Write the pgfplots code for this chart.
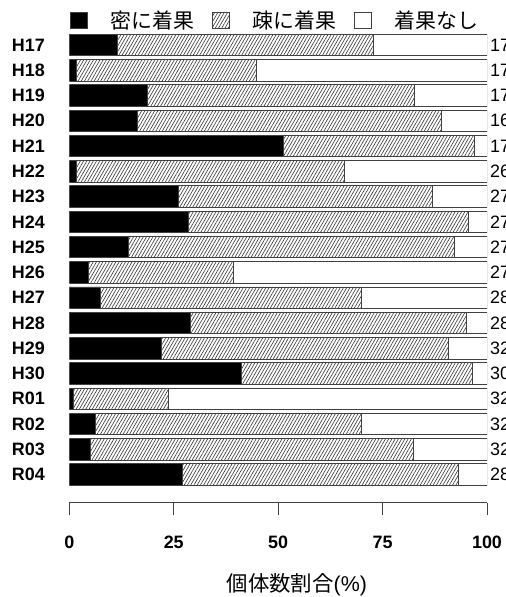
\documentclass[border=0pt]{standalone}
\usepackage{fontspec}
\setmainfont{Liberation Sans}
\newfontfamily\cjk{Noto Sans CJK JP}
\usepackage{pgfplots}
\pgfplotsset{compat=1.18}
\usepackage{pgfplotstable}
\usetikzlibrary{patterns.meta}

\pgfplotstableread{
y b h w n
17 11.5 61.4 27.1 17
16 1.7 43.1 55.2 17
15 18.7 63.9 17.4 17
14 16.3 72.9 10.8 16
13 51.2 45.9 2.9 17
12 1.8 64.0 34.2 26
11 26.1 60.8 13.1 27
10 28.5 67.0 4.5 27
9 14.2 78.0 7.8 27
8 4.5 34.8 60.7 27
7 7.4 62.5 30.1 28
6 29.1 65.9 5.0 28
5 22.0 68.8 9.2 32
4 41.3 55.3 3.4 30
3 1.0 22.8 76.2 32
2 6.3 63.6 30.1 32
1 5.0 77.4 17.6 32
0 27.0 66.1 6.9 28
}\data

\definecolor{edge}{HTML}{404040}
\newcommand\legtext[1]{{\cjk\fontsize{21}{21}\selectfont #1}}

\begin{document}
\begin{tikzpicture}
\useasboundingbox (0,0) rectangle (506bp,597bp);
\begin{axis}[
  at={(69.3bp,94.3bp)}, anchor=south west,
  scale only axis, width=417.7bp, height=470.4bp,
  xbar stacked, bar width=0.85,
  xmin=0, xmax=100, ymin=-1.11, ymax=17.5,
  axis x line*=bottom, axis y line*=left,
  y axis line style={draw=none},
  x axis line style={draw=edge, line width=0.9bp, -},
  ytick={0,...,17},
  yticklabels={R04,R03,R02,R01,H30,H29,H28,H27,H26,H25,H24,H23,H22,H21,H20,H19,H18,H17},
  ytick style={draw=none},
  xtick={0,25,50,75,100},
  tick align=outside,
  major tick length=12.3bp,
  xtick style={draw=edge, line width=0.9bp},
  /pgf/number format/assume math mode=true,
  ticklabel style={font=\fontsize{18}{18}\selectfont\bfseries, inner sep=0pt},
  yticklabel style={anchor=east, xshift=-12bp},
  xticklabel style={anchor=north, yshift=-21bp},
  xlabel={{\cjk 個体数割合}(\%)},
  xlabel style={at={(axis description cs:0.5,0)}, anchor=center, yshift=-82bp, xshift=18.7bp, font=\fontsize{21.5}{21.5}\selectfont, inner sep=0pt},
  legend columns=3,
  legend style={draw=none, fill=none, at={(0,1)}, anchor=west, xshift=0.7bp, yshift=12bp,
    inner sep=0pt, outer sep=0pt, nodes={inner sep=0pt},
    /tikz/every even column/.append style={column sep=18bp}},
  legend image code/.code={\draw[#1, line width=0.8bp] (0bp,-8bp) rectangle (17bp,8bp);
    \path[draw=none, fill=none] (0bp,0bp) -- (40bp,0bp);},
]
\addplot[fill=black, draw=edge, line width=0.8bp] table[x=b, y=y] {\data};
\addplot[fill=white, pattern={Lines[angle=60,distance=2.8bp,line width=0.6bp]}, pattern color=black!80, draw=edge, line width=0.8bp] table[x=h, y=y] {\data};
\addplot[fill=white, draw=edge, line width=0.8bp] table[x=w, y=y] {\data};
\legend{\legtext{密に着果},\legtext{疎に着果},\legtext{着果なし}}
\end{axis}
\begin{axis}[
  at={(69.3bp,94.3bp)}, anchor=south west,
  scale only axis, width=417.7bp, height=470.4bp,
  xmin=0, xmax=100, ymin=-1.11, ymax=17.5,
  hide x axis, axis y line*=right,
  y axis line style={draw=none},
  ytick={0,...,17},
  yticklabels={28,32,32,32,30,32,28,28,27,27,27,27,26,17,16,17,17,17},
  ytick style={draw=none},
  yticklabel style={anchor=west, inner sep=0pt, xshift=3bp, font=\fontsize{18}{18}\selectfont},
]
\addplot[draw=none] coordinates {(0,0)};
\end{axis}
\end{tikzpicture}
\end{document}
